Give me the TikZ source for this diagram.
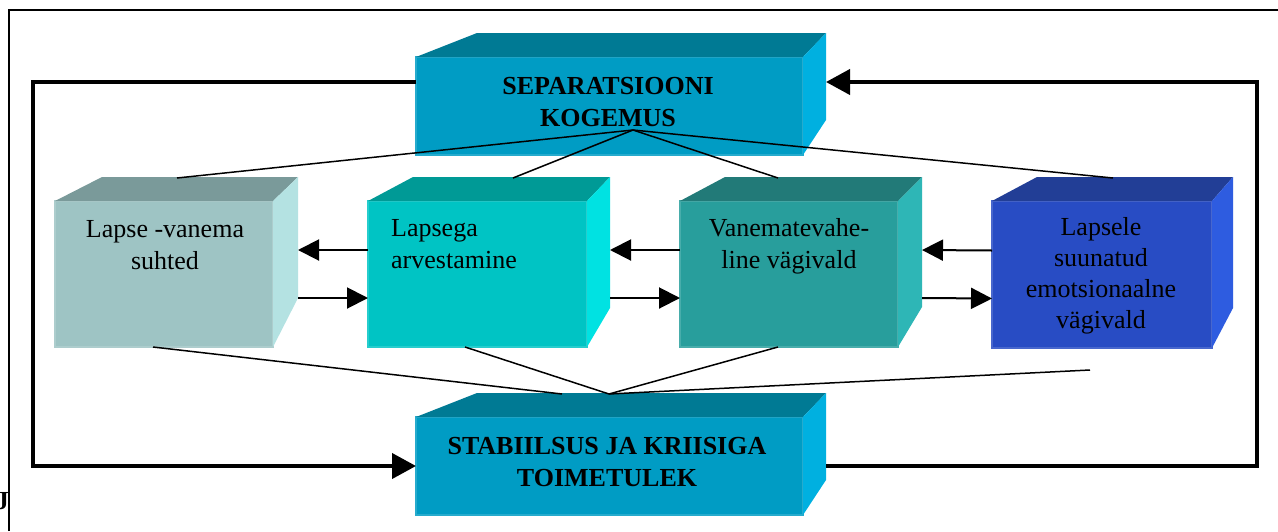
\documentclass[tikz,border=0pt]{standalone}
\usepackage{fontspec}
\setmainfont{Liberation Serif}
\usetikzlibrary{arrows.meta}
\definecolor{kF}{HTML}{009CC4}
\definecolor{kT}{HTML}{007A94}
\definecolor{kS}{HTML}{00B0E0}
\definecolor{aF}{HTML}{9EC4C4}
\definecolor{aT}{HTML}{7A9A9A}
\definecolor{aS}{HTML}{B4E2E2}
\definecolor{bF}{HTML}{00C4C4}
\definecolor{bT}{HTML}{009A96}
\definecolor{bS}{HTML}{00E2E2}
\definecolor{cF}{HTML}{289E9C}
\definecolor{cT}{HTML}{227A78}
\definecolor{cS}{HTML}{2EB6B6}
\definecolor{dF}{HTML}{284CC4}
\definecolor{dT}{HTML}{223E96}
\definecolor{dS}{HTML}{2E5CE0}
\tikzset{
  front/.style={inner sep=0pt, outer sep=0pt, anchor=north west, line width=1.2pt},
  lbl/.style={inner sep=0pt, anchor=north, align=center, font=\fontsize{26}{32}\selectfont},
  blbl/.style={inner sep=0pt, anchor=north, align=center, font=\fontsize{26}{32}\selectfont\bfseries},
  link/.style={line width=1.5pt, black},
  flow/.style={line width=2pt, black, -{Triangle[length=21pt,width=21pt]}},
  loopline/.style={line width=4pt, black, -{Triangle[length=24pt,width=25pt]}},
}
\begin{document}
\begin{tikzpicture}[x=1pt,y=-1pt]
\useasboundingbox (0,0) rectangle (1278,531);
\fill[white] (0,0) rectangle (1278,531);
% outer frame
\coordinate (fa) at (9,531);
\coordinate (fb) at (9,10);
\coordinate (fc) at (1278,10);
\draw[line width=1.3pt] (fa) -- (fb) -- (fc);
\node[inner sep=0pt, anchor=base east, font=\fontsize{26}{32}\selectfont\bfseries] (jj) at (9,509) {J};

% top box
\node[front, fill=kF, draw=kF!85!white, minimum width=387pt, minimum height=98pt] (tb) at (416,57) {};
\fill[kT] (tb.north west) -- (477,33) -- (826,33) -- (tb.north east) -- cycle;
\fill[kS] (tb.north east) -- (826,33) -- (826,120) -- (tb.south east) -- cycle;
% bottom box
\node[front, fill=kF, draw=kF!85!white, minimum width=387pt, minimum height=98pt] (bb) at (416,417) {};
\fill[kT] (bb.north west) -- (477,393) -- (826,393) -- (bb.north east) -- cycle;
\fill[kS] (bb.north east) -- (826,393) -- (826,480) -- (bb.south east) -- cycle;

% middle boxes
\node[front, fill=aF, draw=aF!85!white, minimum width=218pt, minimum height=146pt] (b1) at (55,201) {};
\fill[aT] (b1.north west) -- (102,177) -- (298,177) -- (b1.north east) -- cycle;
\fill[aS] (b1.north east) -- (298,177) -- (298,298) -- (b1.south east) -- cycle;

\node[front, fill=bF, draw=bF!85!white, minimum width=219pt, minimum height=146pt] (b2) at (368,201) {};
\fill[bT] (b2.north west) -- (413,177) -- (610,177) -- (b2.north east) -- cycle;
\fill[bS] (b2.north east) -- (610,177) -- (610,308) -- (b2.south east) -- cycle;

\node[front, fill=cF, draw=cF!85!white, minimum width=218pt, minimum height=146pt] (b3) at (680,201) {};
\fill[cT] (b3.north west) -- (725,177) -- (922,177) -- (b3.north east) -- cycle;
\fill[cS] (b3.north east) -- (922,177) -- (922,307) -- (b3.south east) -- cycle;

\node[front, fill=dF, draw=dF!85!white, minimum width=220pt, minimum height=147pt] (b4) at (992,201) {};
\fill[dT] (b4.north west) -- (1037,177) -- (1233,177) -- (b4.north east) -- cycle;
\fill[dS] (b4.north east) -- (1233,177) -- (1233,308) -- (b4.south east) -- cycle;

% right-face anchors
\coordinate (b1r) at (298,274);
\coordinate (b2r) at (610,274);
\coordinate (b3r) at (922,274);

% arrows between middle boxes
\draw[flow] ([yshift=24pt]b2.west) -- ([yshift=24pt]b1r);
\draw[flow] ([yshift=-24pt]b1r) -- ([yshift=-24pt]b2.west);
\draw[flow] ([yshift=24pt]b3.west) -- ([yshift=24pt]b2r);
\draw[flow] ([yshift=-24pt]b2r) -- ([yshift=-24pt]b3.west);
\draw[flow] ([yshift=24pt]b4.west) -- ([yshift=24pt]b3r);
\draw[flow] ([yshift=-24pt]b3r) -- ([yshift=-24pt]b4.west);

% feedback loop
\coordinate (lnw) at (33,82);
\coordinate (lsw) at (33,466);
\coordinate (lse) at (1257,466);
\coordinate (lne) at (1257,82);
\coordinate (tbr) at (826,82);
\coordinate (bbr) at (826,466);
\draw[loopline] ([yshift=24pt]tb.west) -- (lnw) -- (lsw) -- (bb.west);
\draw[loopline] (bbr) -- (lse) -- (lne) -- (tbr);

% thin links to top box
\coordinate (tf) at (633,130);
\coordinate (b1t) at (177,178);
\coordinate (b2t) at (513,178);
\coordinate (b3t) at (778,178);
\coordinate (b4t) at (1113,178);
\draw[link] (tf) -- (b1t);
\draw[link] (tf) -- (b2t);
\draw[link] (tf) -- (b3t);
\draw[link] (tf) -- (b4t);

% thin links to bottom box
\coordinate (bf) at (609,394);
\coordinate (bfl) at (562,394);
\coordinate (b1b) at (153,347);
\coordinate (b2b) at (465,347);
\coordinate (b3b) at (778,347);
\coordinate (b4b) at (1090,370);
\draw[link] (b1b) -- (bfl);
\draw[link] (b2b) -- (bf);
\draw[link] (b3b) -- (bf);
\draw[link] (b4b) -- (bf);

% labels
\node[blbl] (tbl) at (608,71.6) {\strut SEPARATSIOONI\\KOGEMUS};
\node[blbl] (bbl) at (607,431.6) {\strut STABIILSUS JA KRIISIGA\\TOIMETULEK};
\node[lbl] (b1l) at (165,214.6) {\strut Lapse -vanema\\suhted};
\node[lbl, anchor=north west, align=left] (b2l) at (391,213.6) {\strut Lapsega\\arvestamine};
\node[lbl] (b3l) at (789,213.6) {\strut Vanematevahe-\\line vägivald};
\node[lbl, font=\fontsize{26}{31}\selectfont] (b4l) at (1101,213.6) {\strut Lapsele\\suunatud\\emotsionaalne\\vägivald};
\end{tikzpicture}
\end{document}
